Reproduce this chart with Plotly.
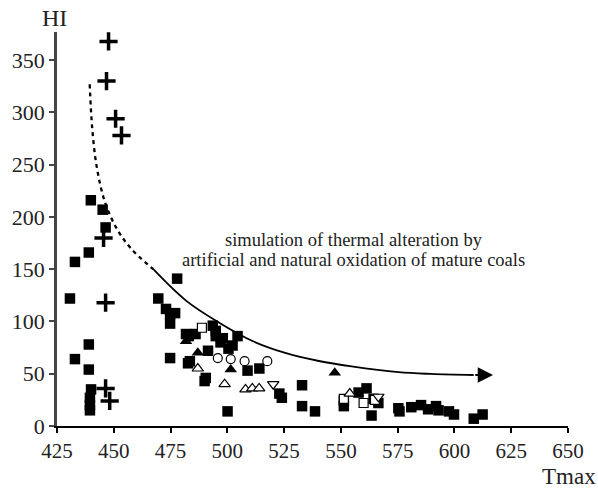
import plotly.graph_objects as go

# ---------------- data (Tmax, HI) ----------------
sq_T = [439.9, 445.1, 446.4, 432.9, 439.0, 430.7, 439.0, 432.9, 439.0, 440.0, 439.5, 439.5, 439.5,
        477.9, 469.6, 473.0, 474.8, 477.0, 474.8, 474.8, 481.8, 486.0, 482.7, 483.5, 493.6, 494.9,
        494.9, 498.0, 504.5, 502.3, 500.5, 490.5, 490.0, 500.1, 508.9, 514.1, 522.9, 524.0, 532.9,
        532.9, 538.6, 551.3, 491.5, 497.0, 483.0,
        551.3, 557.8, 561.3, 563.5, 564.4, 566.5, 575.3, 575.8, 581.0, 585.3, 588.4, 591.9, 593.0,
        597.6, 599.8, 608.5, 612.4]
sq_HI = [216, 207, 190, 157, 166, 122, 78, 64, 54, 35, 27, 20, 15,
         141, 122, 112, 107, 108, 98, 65, 88, 88, 60, 62, 96, 91,
         86, 84, 86, 77, 74, 46, 43, 14, 53, 55, 31, 27, 39,
         19, 14, 19, 72, 80, 86,
         24, 32, 36, 10, 26, 22, 17, 14, 18, 20, 16, 19, 15,
         14, 11, 7, 11]

cross_T = [447.7, 446.8, 450.8, 453.4, 445.5, 446.4, 446.4, 448.2]
cross_HI = [368, 330, 294, 278, 180, 118, 36, 24]

osq_T = [488.8, 551.3, 560.0, 565.0]
osq_HI = [94, 26, 22, 25]

otri_T = [487.0, 498.8, 508.0, 511.0, 514.0, 553.9]
otri_HI = [55, 40, 35, 36, 36, 31]

ocirc_T = [495.8, 501.5, 507.6, 517.6]
ocirc_HI = [65, 64, 62, 62]

odown_T = [520.2, 566.5]
odown_HI = [40, 28]

ftri_T = [481.8, 487.0, 501.5, 547.3]
ftri_HI = [81, 70, 54, 51]

# trend curve (dashed then solid, ending in arrow)
dash_T = [439.4, 440.5, 442.5, 446.0, 451.0, 457.5, 467.4]
dash_HI = [327, 285, 248, 215, 190, 170, 150]
solid_T = [467.4, 481.8, 496.6, 511.1, 525.5, 540.3, 554.7, 575.3, 589.7, 608.5]
solid_HI = [150, 120, 98.6, 81.3, 69.9, 62.2, 57.0, 51.5, 49.8, 48.8]
arrow_tip = (617.0, 48.8)

x_ticks = [425, 450, 475, 500, 525, 550, 575, 600, 625, 650]
y_ticks = [0, 50, 100, 150, 200, 250, 300, 350]

FONT = "Liberation Serif"

fig = go.Figure()

fig.add_trace(go.Scatter(x=dash_T, y=dash_HI, mode="lines",
                         line=dict(color="black", width=2.3, dash="4px,4px", shape="spline"),
                         hoverinfo="skip"))
fig.add_trace(go.Scatter(x=solid_T, y=solid_HI, mode="lines",
                         line=dict(color="black", width=1.8, shape="spline"), hoverinfo="skip"))

fig.add_trace(go.Scatter(x=sq_T, y=sq_HI, mode="markers",
                         marker=dict(symbol="square", size=10.5, color="black")))
fig.add_trace(go.Scatter(x=cross_T, y=cross_HI, mode="markers",
                         marker=dict(symbol="cross-thin", size=13, color="black",
                                     line=dict(color="black", width=3.5))))
fig.add_trace(go.Scatter(x=ftri_T, y=ftri_HI, mode="markers",
                         marker=dict(symbol="triangle-up", size=11, color="black")))
fig.add_trace(go.Scatter(x=osq_T, y=osq_HI, mode="markers",
                         marker=dict(symbol="square", size=9, color="white",
                                     line=dict(color="black", width=1.2))))
fig.add_trace(go.Scatter(x=otri_T, y=otri_HI, mode="markers",
                         marker=dict(symbol="triangle-up", size=10, color="white",
                                     line=dict(color="black", width=1.2))))
fig.add_trace(go.Scatter(x=ocirc_T, y=ocirc_HI, mode="markers",
                         marker=dict(symbol="circle", size=9, color="white",
                                     line=dict(color="black", width=1.2))))
fig.add_trace(go.Scatter(x=odown_T, y=odown_HI, mode="markers",
                         marker=dict(symbol="triangle-down", size=10, color="white",
                                     line=dict(color="black", width=1.2))))

fig.add_annotation(x=arrow_tip[0], y=arrow_tip[1], ax=solid_T[-1], ay=solid_HI[-1],
                   xref="x", yref="y", axref="x", ayref="y", text="", showarrow=True,
                   arrowhead=2, arrowsize=1.7, arrowwidth=1.8, arrowcolor="black")

fig.add_annotation(x=555.6, y=178.0, xref="x", yref="y", showarrow=False,
                   xanchor="center", yanchor="middle",
                   text="simulation of thermal alteration by",
                   font=dict(family=FONT, size=18.5, color="#222"))
fig.add_annotation(x=555.6, y=158.5, xref="x", yref="y", showarrow=False,
                   xanchor="center", yanchor="middle",
                   text="artificial and natural oxidation of mature coals",
                   font=dict(family=FONT, size=18.5, color="#222"))

fig.add_annotation(x=-0.005, y=1.035, xref="paper", yref="paper", showarrow=False,
                   xanchor="center", yanchor="middle",
                   text="HI", font=dict(family=FONT, size=24, color="#222"))
fig.add_annotation(x=1.002, y=-0.129, xref="paper", yref="paper", showarrow=False,
                   xanchor="center", yanchor="middle",
                   text="Tmax", font=dict(family=FONT, size=23, color="#222"))

fig.update_layout(
    width=598, height=488,
    margin=dict(l=53.5, r=30, t=32, b=62, pad=0),
    paper_bgcolor="white", plot_bgcolor="white",
    showlegend=False,
    font=dict(family=FONT, size=21, color="#222"),
    xaxis=dict(range=[425, 650], tickvals=x_ticks, ticktext=[str(v) for v in x_ticks],
               showgrid=False, zeroline=False, showline=True, linecolor="black", linewidth=2,
               ticks="outside", ticklen=5, tickwidth=1.5, tickcolor="black",
               tickfont=dict(family=FONT, size=21, color="#222")),
    yaxis=dict(range=[0, 377], tickvals=y_ticks, ticktext=[str(v) for v in y_ticks],
               showgrid=False, zeroline=False, showline=True, linecolor="#444", linewidth=2.5,
               ticks="outside", ticklen=5, tickwidth=1.5, tickcolor="#444",
               tickfont=dict(family=FONT, size=22, color="#222")),
)

fig.write_html("out.html")
